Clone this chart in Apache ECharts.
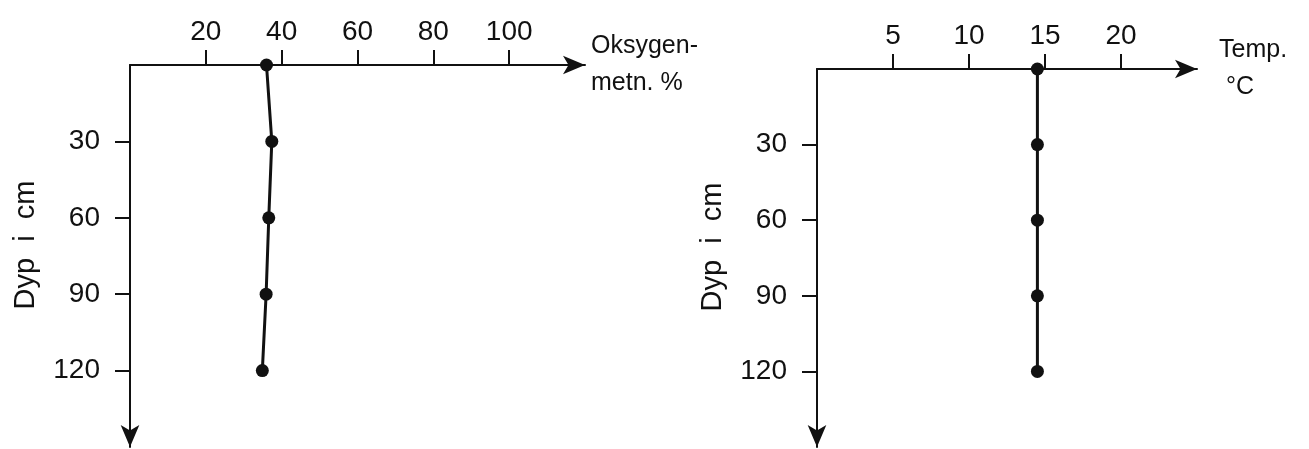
<!DOCTYPE html>
<html>
	<head>
		<meta charset="utf-8">
		<title>Oksygenmetning og temperatur</title>
		<script src="https://cdn.jsdelivr.net/npm/echarts@6/dist/echarts.min.js"></script>
	</head>
	<style type="text/css">
		html, body {
			margin: 0;
			padding: 0;
			background: #fff;
		}

		#chart {
			width: 1309px;
			height: 449px;
		}
	</style>

	<body>
		<div id="chart"></div>

		<script>
			// dybde (cm) og målte verdier
			var depths = [0, 30, 60, 90, 120];
			var oxygen = [36, 37.4, 36.6, 35.9, 34.9];
			var temp = [14.5, 14.5, 14.5, 14.5, 14.5];

			// tick-verdier
			var oxyTicks = [20, 40, 60, 80, 100];
			var tempTicks = [5, 10, 15, 20];
			var depthTicks = [30, 60, 90, 120];

			var font = 'Liberation Sans';
			var ink = '#111';

			function pairs(xs) {
				var out = [];
				for (var i = 0; i < depths.length; i++) {
					out.push([xs[i], depths[i]]);
				}
				return out;
			}

			function xAx(idx, max, ticks, name, gap) {
				return {
					gridIndex: idx,
					type: 'value',
					position: 'top',
					min: 0,
					max: max,
					name: name,
					nameLocation: 'end',
					nameGap: gap,
					nameTextStyle: {
						color: ink,
						fontFamily: font,
						fontSize: 25,
						lineHeight: 37,
						align: 'left'
					},
					axisLine: {
						show: true,
						symbol: ['none', 'arrow'],
						symbolSize: [14, 22],
						lineStyle: { color: ink, width: 2 }
					},
					axisTick: {
						show: true,
						length: 15,
						customValues: ticks,
						lineStyle: { color: ink, width: 2 }
					},
					axisLabel: {
						customValues: ticks,
						margin: 19,
						color: ink,
						fontFamily: font,
						fontSize: 28
					},
					splitLine: { show: false }
				};
			}

			function yAx(idx) {
				return {
					gridIndex: idx,
					type: 'value',
					inverse: true,
					min: 0,
					max: 150,
					name: 'Dyp  i  cm',
					nameLocation: 'middle',
					nameRotate: 90,
					nameGap: 90,
					nameTextStyle: {
						color: ink,
						fontFamily: font,
						fontSize: 29,
						padding: [0, 0, 0, 22]
					},
					axisLine: {
						show: true,
						symbol: ['arrow', 'none'],
						symbolSize: [14, 22],
						lineStyle: { color: ink, width: 2 }
					},
					axisTick: {
						show: true,
						length: 15,
						customValues: depthTicks,
						lineStyle: { color: ink, width: 2 }
					},
					axisLabel: {
						customValues: depthTicks,
						margin: 30,
						color: ink,
						fontFamily: font,
						fontSize: 28
					},
					splitLine: { show: false }
				};
			}

			function profile(idx, xs) {
				return {
					type: 'line',
					xAxisIndex: idx,
					yAxisIndex: idx,
					data: pairs(xs),
					smooth: false,
					clip: false,
					animation: false,
					symbol: 'circle',
					symbolSize: 13,
					itemStyle: { color: ink },
					lineStyle: { color: ink, width: 3 }
				};
			}

			var chart = echarts.init(document.getElementById('chart'));
			chart.setOption({
				backgroundColor: '#fff',
				grid: [{
					left: 130,
					top: 65,
					width: 455,
					height: 382
				}, {
					left: 817,
					top: 69,
					width: 380,
					height: 378
				}],
				xAxis: [
					xAx(0, 120, oxyTicks, 'Oksygen-\nmetn. %', 6),
					xAx(1, 25, tempTicks, 'Temp.\n °C', 22)
				],
				yAxis: [yAx(0), yAx(1)],
				series: [profile(0, oxygen), profile(1, temp)]
			});
		</script>
	</body>
</html>
